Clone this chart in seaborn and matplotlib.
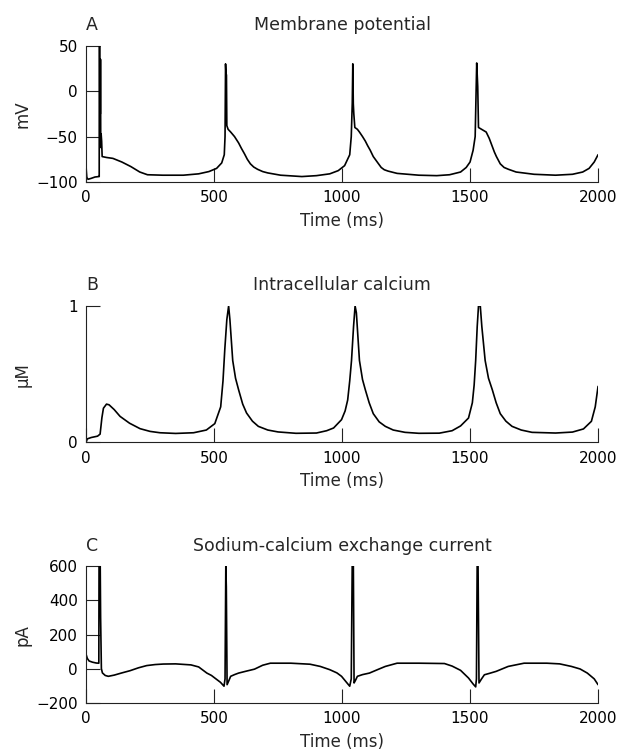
import matplotlib
matplotlib.use("Agg")
import matplotlib.pyplot as plt
import seaborn as sns
import pandas as pd

# ---------------- data ----------------
time_ticks = [0, 500, 1000, 1500, 2000]

# Panel A: membrane potential (mV)
t_vm = [0, 3, 8, 20, 35, 50, 51.5, 52, 53.5, 54, 56, 56.5, 57.5, 59, 61, 63, 80, 105, 140, 175,
        210, 240, 300, 380, 440, 480, 510, 530, 540, 543, 545, 547, 548.5, 550, 555, 565, 580,
        596, 607, 619, 630, 642, 655, 670, 690, 710, 760, 843, 900, 952, 985, 1010, 1030, 1036,
        1040, 1042, 1044, 1046, 1050, 1060, 1068, 1080, 1091, 1100, 1110, 1122, 1140, 1153,
        1165, 1180, 1215, 1300, 1370, 1420, 1463, 1485, 1500, 1512, 1520, 1526, 1530, 1533,
        1545, 1563, 1575, 1587, 1595, 1603, 1618, 1633, 1650, 1680, 1750, 1834, 1900, 1940,
        1965, 1985, 2000]
vm = [-84, -95, -97, -96, -94.5, -94, -94, 70, 70, -25, -25, 35, -62, -47, -55, -72, -73, -74,
      -78, -83, -89, -92, -92.5, -92.5, -91, -88.5, -85, -79, -70, -50, 30, 18, 18, -38, -42,
      -45, -50, -57, -63, -69, -75, -80, -83.5, -86, -88.5, -90, -92.5, -94, -93, -91, -87.5,
      -82, -70, -50, -13, 30, -14, -25, -40, -42, -45, -50, -55, -60, -65, -72, -79, -84, -86.5,
      -88, -90.5, -92.5, -93, -92, -89, -84, -78, -65, -50, 31, 5, -40, -42, -45, -52, -61, -67,
      -72, -80, -84, -86, -89, -91.5, -92.5, -91.5, -89, -85, -78, -70]
vm_ticks = [-100, -50, 0, 50]

# Panel B: intracellular calcium (uM)
t_ca = [0, 5, 20, 45, 55, 62, 68, 80, 90, 110, 133, 170, 211, 250, 289, 350, 420, 470, 503,
        526, 535, 542, 550, 557, 562, 573, 584, 596, 612, 627, 650, 673, 710, 750, 820, 900,
        940, 967, 998, 1012, 1022, 1030, 1037, 1045, 1051, 1056, 1068, 1080, 1091, 1106, 1122,
        1145, 1169, 1200, 1246, 1300, 1380, 1430, 1463, 1494, 1509, 1516, 1522, 1528, 1533,
        1540, 1546, 1559, 1572, 1587, 1602, 1618, 1640, 1664, 1700, 1742, 1834, 1900, 1943,
        1974, 1989, 2000]
ca = [0, 0.025, 0.035, 0.045, 0.06, 0.18, 0.25, 0.28, 0.275, 0.24, 0.19, 0.14, 0.10, 0.08,
      0.07, 0.065, 0.07, 0.09, 0.137, 0.26, 0.45, 0.68, 0.9, 1.0, 0.9, 0.6, 0.47, 0.385, 0.28,
      0.215, 0.155, 0.117, 0.09, 0.076, 0.066, 0.068, 0.085, 0.105, 0.166, 0.23, 0.31, 0.45,
      0.6, 0.85, 1.0, 0.95, 0.6, 0.46, 0.385, 0.29, 0.21, 0.15, 0.117, 0.09, 0.073, 0.066,
      0.067, 0.085, 0.12, 0.178, 0.29, 0.42, 0.6, 0.85, 1.0, 1.0, 0.85, 0.6, 0.47, 0.385,
      0.29, 0.21, 0.155, 0.117, 0.09, 0.073, 0.068, 0.075, 0.098, 0.154, 0.26, 0.41]
ca_ticks = [0, 1]

# Panel C: sodium-calcium exchange current (pA)
t_ncx = [0, 5, 12, 25, 40, 50, 51, 55, 57, 60, 64, 75, 87, 110, 140, 172, 205, 237, 270, 302,
         350, 410, 440, 472, 490, 503, 525, 539, 543, 546, 548, 551, 558, 565, 580, 596, 625,
         658, 690, 720, 800, 875, 915, 952, 980, 998, 1020, 1030, 1036, 1040, 1044, 1047, 1052,
         1060, 1080, 1107, 1140, 1169, 1215, 1300, 1400, 1430, 1463, 1494, 1512, 1522, 1525,
         1528, 1531, 1535, 1545, 1556, 1575, 1602, 1649, 1711, 1800, 1850, 1896, 1930, 1958,
         1985, 2000]
ncx = [85, 60, 45, 38, 33, 32, 700, 700, 300, 0, -25, -40, -45, -38, -25, -12, 5, 18, 24, 27,
       28, 22, 10, -26, -40, -55, -80, -103, -60, 600, 480, -94, -70, -45, -35, -26, -15, -3,
       20, 32, 32, 26, 13, -6, -25, -45, -85, -103, -60, 650, 650, -84, -70, -45, -35, -26, -5,
       13, 32, 32, 30, 15, -10, -55, -90, -107, -60, 650, 650, -84, -60, -36, -28, -16, 13, 32,
       32, 28, 13, -2, -26, -60, -94]
ncx_ticks = [-200, 0, 200, 400, 600]

letters = ["A", "B", "C"]
titles = ["Membrane potential", "Intracellular calcium", "Sodium-calcium exchange current"]
ylabels = ["mV", "\u03bcM", "pA"]
xlabel = "Time (ms)"

# ---------------- figure ----------------
sns.set_theme(style="ticks")
plt.rcParams["font.family"] = ["DejaVu Sans"]
plt.rcParams["axes.unicode_minus"] = True

fig = plt.figure(figsize=(6.22, 7.54), dpi=100)
left, width, height = 0.1383, 0.8232, 0.1808
bottoms = [0.7586, 0.4134, 0.0680]

panels = [(t_vm, vm, vm_ticks), (t_ca, ca, ca_ticks), (t_ncx, ncx, ncx_ticks)]

for i, (tt, yy, yt) in enumerate(panels):
    ax = fig.add_axes([left, bottoms[i], width, height])
    df = pd.DataFrame({"t": tt, "y": yy})
    sns.lineplot(data=df, x="t", y="y", ax=ax, color="black", linewidth=1.2,
                 sort=False, estimator=None)
    ax.set_xlim(time_ticks[0], time_ticks[-1])
    ax.set_ylim(yt[0], yt[-1])
    ax.set_xticks(time_ticks)
    ax.set_yticks(yt)
    for s in ["top", "right"]:
        ax.spines[s].set_visible(False)
    for s in ["left", "bottom"]:
        ax.spines[s].set_linewidth(0.8)
        ax.spines[s].set_color("#222222")
    ax.tick_params(axis="both", direction="in", length=10, width=0.8, color="#222222",
                   labelsize=11, labelcolor="black")
    ax.tick_params(axis="y", pad=6)
    ax.tick_params(axis="x", pad=6)
    ax.set_xlabel(xlabel, fontsize=12)
    ax.set_ylabel(ylabels[i], fontsize=12)
    ax.xaxis.set_label_coords(0.5, -0.22)
    ax.yaxis.set_label_coords(-0.107, 0.5)
    ax.text(0.5, 1.152, titles[i], transform=ax.transAxes, ha="center", va="center",
            fontsize=12.5)
    ax.text(0.012, 1.152, letters[i], transform=ax.transAxes, ha="center", va="center",
            fontsize=12.5)

fig.savefig("out.png", dpi=100)
